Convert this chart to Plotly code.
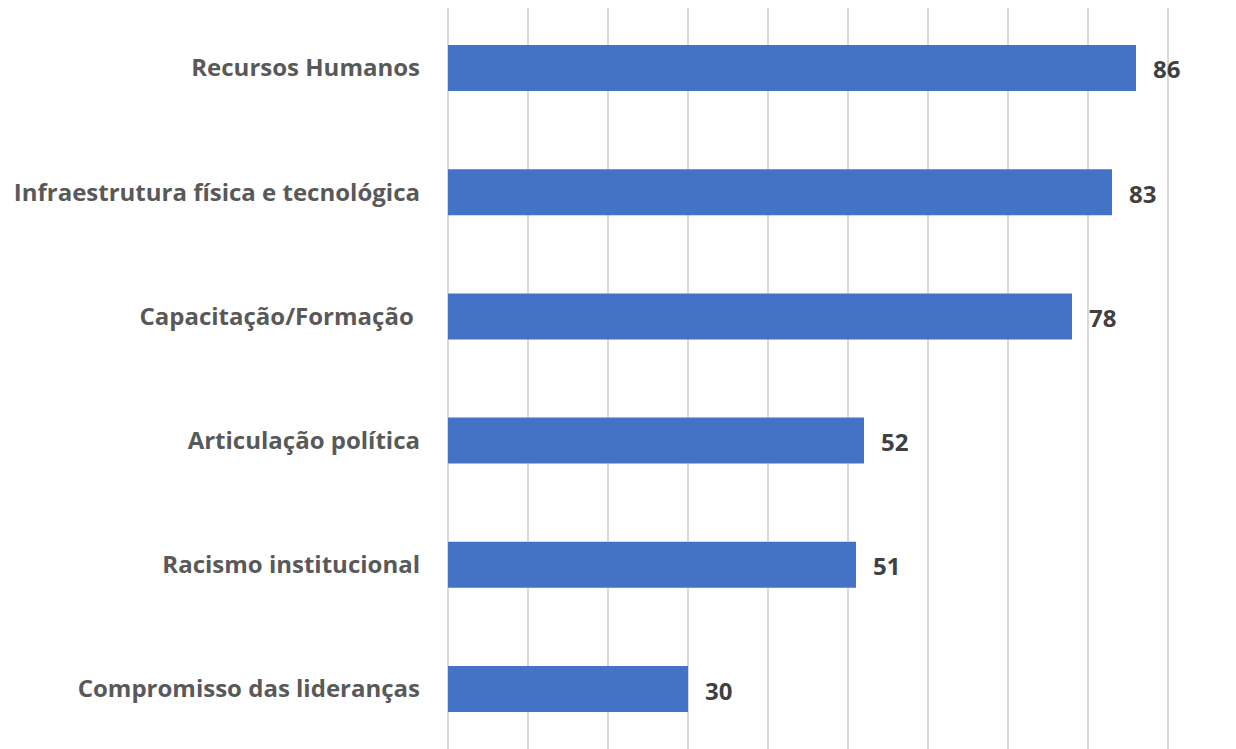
import plotly.graph_objects as go

categorias = [
    "Recursos Humanos",
    "Infraestrutura física e tecnológica",
    "Capacitação/Formação ",
    "Articulação política",
    "Racismo institucional",
    "Compromisso das lideranças",
]
valores = [86, 83, 78, 52, 51, 30]

FONTE = "Open Sans, Lato, sans-serif"

fig = go.Figure()
fig.add_trace(go.Bar(
    x=valores,
    y=categorias,
    orientation="h",
    marker=dict(color="#4472C4", line=dict(width=0)),
    hoverinfo="x+y",
))

# value labels a bit away from the bar ends
for cat, val in zip(categorias, valores):
    fig.add_annotation(
        x=val, y=cat, text=f"<b>{val}</b>", showarrow=False,
        xanchor="left", xshift=15, yshift=-1,
        font=dict(family=FONTE, size=24, color="#404040"),
    )

# page body has an 8px margin in the browser, so the figure is a bit smaller
# range goes slightly past 90 so the last gridline gets drawn
fig.update_layout(
    width=1228, height=741,
    margin=dict(l=440, r=66, t=0, b=0),
    paper_bgcolor="white",
    plot_bgcolor="white",
    bargap=0.63,
    showlegend=False,
    xaxis=dict(
        range=[0, 90.25], dtick=10, showticklabels=False,
        showgrid=True, gridcolor="#D9D9D9", gridwidth=2,
        zeroline=True, zerolinecolor="#D9D9D9", zerolinewidth=2,
        showline=False,
    ),
    yaxis=dict(
        range=[5.483, -0.483],
        showgrid=False, zeroline=False, showline=False,
        ticks="", ticklabelstandoff=27,
        tickfont=dict(family=FONTE, size=24, color="#595959", weight="bold"),
    ),
)

fig.write_html("out.html")
